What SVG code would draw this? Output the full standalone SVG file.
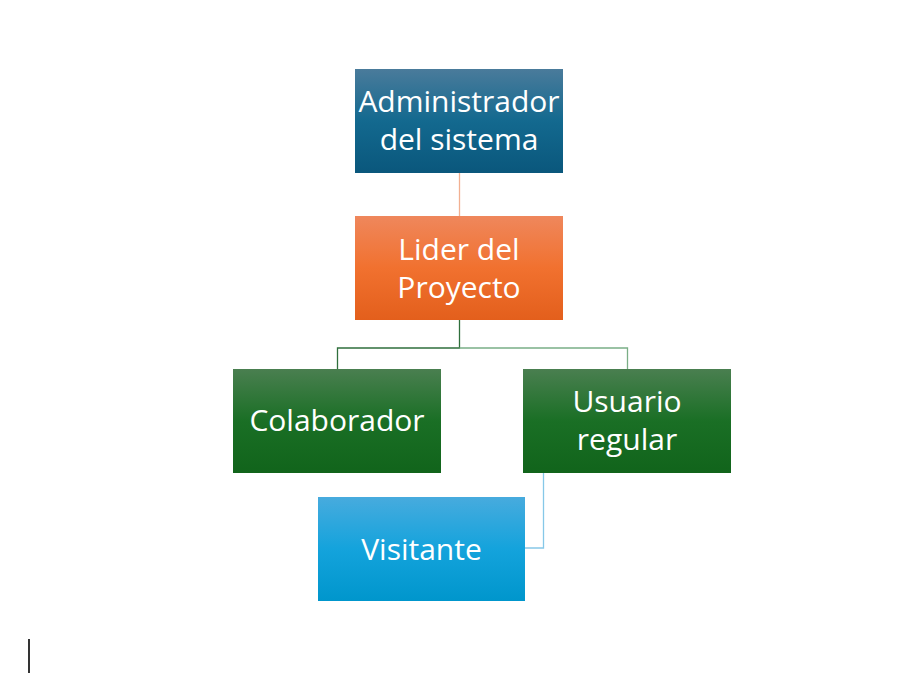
<svg xmlns="http://www.w3.org/2000/svg" width="903" height="699" viewBox="0 0 903 699">
<defs>
<linearGradient id="gBlue" x1="0" y1="0" x2="0" y2="1"><stop offset="0" stop-color="#4a7b9b"/><stop offset="0.5" stop-color="#13698f"/><stop offset="1" stop-color="#0a577c"/></linearGradient>
<linearGradient id="gOrange" x1="0" y1="0" x2="0" y2="1"><stop offset="0" stop-color="#ef875c"/><stop offset="0.5" stop-color="#f1712f"/><stop offset="1" stop-color="#e35f1c"/></linearGradient>
<linearGradient id="gGreen" x1="0" y1="0" x2="0" y2="1"><stop offset="0" stop-color="#4a7f50"/><stop offset="0.5" stop-color="#1a6f25"/><stop offset="1" stop-color="#11641b"/></linearGradient>
<linearGradient id="gSky" x1="0" y1="0" x2="0" y2="1"><stop offset="0" stop-color="#47abde"/><stop offset="0.5" stop-color="#14a3dc"/><stop offset="1" stop-color="#0096cc"/></linearGradient>
</defs>
<style>
text{font-family:"Open Sans","Noto Sans",sans-serif;font-size:30px;fill:#ffffff;text-anchor:middle}
.c{fill:none;stroke-width:1.3}
</style>
<rect width="903" height="699" fill="#ffffff"/>
<g id="connectors">
<path class="c" d="M459.5 173 V216" stroke="#f2b091"/>
<path class="c" d="M459.5 320 V348 H337.5 V369" stroke="#2f6f3c"/>
<path class="c" d="M459.5 348 H627.5 V369" stroke="#7aae86"/>
<path class="c" d="M543.5 473 V548 H525" stroke="#86c8e8"/>
</g>
<g id="admin"><rect x="355" y="69" width="208" height="104" fill="url(#gBlue)"/><text x="459" y="112">Administrador</text><text x="459" y="150">del sistema</text></g>
<g id="lider"><rect x="355" y="216" width="208" height="104" fill="url(#gOrange)"/><text x="459" y="260">Lider del</text><text x="459" y="298">Proyecto</text></g>
<g id="colaborador"><rect x="233" y="369" width="208" height="104" fill="url(#gGreen)"/><text x="337" y="431">Colaborador</text></g>
<g id="usuario"><rect x="523" y="369" width="208" height="104" fill="url(#gGreen)"/><text x="627" y="412">Usuario</text><text x="627" y="450">regular</text></g>
<g id="visitante"><rect x="318" y="497" width="207" height="104" fill="url(#gSky)"/><text x="421.5" y="560">Visitante</text></g>
<line x1="29" y1="639" x2="29" y2="673" stroke="#000000" stroke-width="1.6"/>
</svg>
